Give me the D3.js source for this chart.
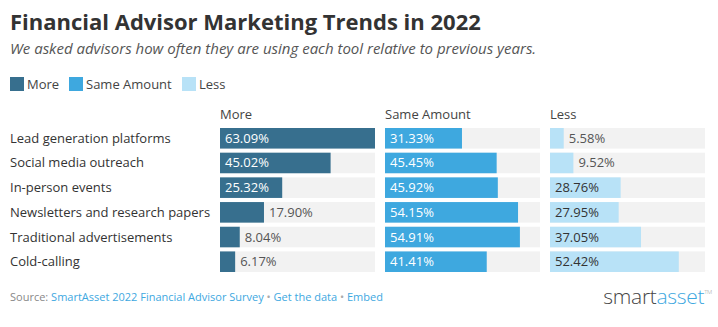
<!DOCTYPE html>
<html lang="en">
<head>
<meta charset="UTF-8">
<title>Financial Advisor Marketing Trends in 2022</title>
<script src="https://d3js.org/d3.v7.min.js"></script>
<style>
  body { margin: 0; background: #fff; font-family: "Open Sans", sans-serif; }
  svg text { font-family: "Open Sans", sans-serif; }
</style>
</head>
<body>
<svg width="718" height="327"></svg>
<script>
const categories = ["Lead generation platforms", "Social media outreach", "In-person events",
  "Newsletters and research papers", "Traditional advertisements", "Cold-calling"];
const seriesNames = ["More", "Same Amount", "Less"];
const more = [63.09, 45.02, 25.32, 17.90, 8.04, 6.17];
const same = [31.33, 45.45, 45.92, 54.15, 54.91, 41.41];
const less = [5.58, 9.52, 28.76, 27.95, 37.05, 52.42];
const colors = ["#376f8e", "#3ea8df", "#b8e2f7"];
const labelInside = ["#fff", "#fff", "#333"];

const series = [more, same, less];
const svg = d3.select("svg");

// title block
svg.append("text").attr("x", 10).attr("y", 30)
  .attr("font-size", 22).attr("font-weight", 700).attr("fill", "#333")
  .text("Financial Advisor Marketing Trends in 2022");
svg.append("text").attr("x", 10).attr("y", 54)
  .attr("font-size", 15).attr("font-style", "italic").attr("fill", "#555")
  .text("We asked advisors how often they are using each tool relative to previous years.");

// legend
const legX = [10, 69, 182];
seriesNames.forEach((s, i) => {
  svg.append("rect").attr("x", legX[i]).attr("y", 77).attr("width", 14).attr("height", 14)
    .attr("fill", colors[i]);
  svg.append("text").attr("x", legX[i] + 17).attr("y", 88.5)
    .attr("font-size", 13).attr("fill", "#444").text(s);
});

// layout
const panelX = d3.scaleBand().domain(seriesNames).range([220, 705]).paddingInner(10 / 165);
const pw = panelX.bandwidth();
const x = d3.scaleLinear().domain([0, d3.max(series.flat())]).range([0, pw]);
const y = d3.scaleBand().domain(categories).range([128, 272]).paddingInner(4 / 24);

// category labels
svg.append("g").selectAll("text").data(categories).join("text")
  .attr("x", 10).attr("y", d => y(d) + y.bandwidth() / 2 + 4.5)
  .attr("font-size", 13).attr("fill", "#333").text(d => d);

seriesNames.forEach((s, si) => {
  const g = svg.append("g").attr("transform", `translate(${panelX(s)},0)`);
  g.append("text").attr("x", 0).attr("y", 119).attr("font-size", 13).attr("fill", "#444").text(s);
  const rows = categories.map((c, i) => ({ c, v: series[si][i] }));
  g.selectAll(".bg").data(rows).join("rect")
    .attr("x", 0).attr("y", d => y(d.c)).attr("width", pw).attr("height", y.bandwidth())
    .attr("fill", "#f2f2f2");
  g.selectAll(".bar").data(rows).join("rect")
    .attr("x", 0).attr("y", d => y(d.c)).attr("width", d => x(d.v)).attr("height", y.bandwidth())
    .attr("fill", colors[si]);
  g.selectAll(".lab").data(rows).join("text")
    .attr("font-size", 13)
    .attr("y", d => y(d.c) + y.bandwidth() / 2 + 4.5)
    .text(d => d.v.toFixed(2) + "%")
    .each(function (d) {
      const w = this.getComputedTextLength();
      const inside = x(d.v) > w + 12;
      d3.select(this).attr("x", inside ? 5 : x(d.v) + 5)
        .attr("fill", inside ? labelInside[si] : "#555");
    });
});

// footer
const foot = svg.append("text").attr("x", 10).attr("y", 301).attr("font-size", 11);
foot.append("tspan").attr("fill", "#888").text("Source: ");
foot.append("tspan").attr("fill", "#3ea8df").text("SmartAsset 2022 Financial Advisor Survey");
foot.append("tspan").attr("fill", "#aaa").text(" \u2022 ");
foot.append("tspan").attr("fill", "#3ea8df").text("Get the data");
foot.append("tspan").attr("fill", "#aaa").text(" \u2022 ");
foot.append("tspan").attr("fill", "#3ea8df").text("Embed");

const logo = svg.append("text").attr("x", 712).attr("y", 304).attr("text-anchor", "end")
  .attr("font-size", 21).attr("font-weight", 300).attr("letter-spacing", -0.3);
logo.append("tspan").attr("fill", "#444").text("smart");
logo.append("tspan").attr("fill", "#3ea8df").text("asset");
logo.append("tspan").attr("fill", "#999").attr("font-size", 6).attr("dy", -10).text("TM");
</script>
</body>
</html>
